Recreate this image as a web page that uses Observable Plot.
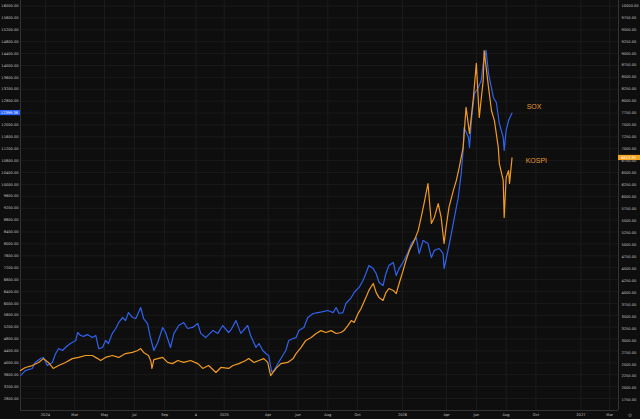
<!DOCTYPE html>
<html><head><meta charset="utf-8">
<script src="https://cdn.jsdelivr.net/npm/d3@7"></script>
<script src="https://cdn.jsdelivr.net/npm/@observablehq/plot@0.6"></script>
<style>html,body{margin:0;padding:0;background:#0e0e0e;overflow:hidden}</style>
</head><body><div id="chart"></div>
<script>
const soxDates = ["2023-11-11","2023-11-21","2023-12-05","2023-12-11","2023-12-22","2023-12-28","2024-01-05","2024-01-15","2024-01-22","2024-01-28","2024-02-05","2024-02-11","2024-02-21","2024-03-03","2024-03-07","2024-03-13","2024-03-19","2024-03-27","2024-04-06","2024-04-13","2024-04-19","2024-04-27","2024-05-03","2024-05-09","2024-05-17","2024-05-24","2024-05-30","2024-06-07","2024-06-13","2024-06-19","2024-06-27","2024-07-04","2024-07-14","2024-07-20","2024-07-28","2024-08-03","2024-08-10","2024-08-18","2024-08-28","2024-09-03","2024-09-13","2024-09-20","2024-09-30","2024-10-10","2024-10-18","2024-10-28","2024-11-08","2024-11-14","2024-11-24","2024-12-09","2024-12-19","2024-12-29","2025-01-10","2025-01-14","2025-01-25","2025-02-04","2025-02-18","2025-02-24","2025-03-07","2025-03-13","2025-03-21","2025-03-27","2025-04-02","2025-04-08","2025-04-13","2025-04-21","2025-04-27","2025-05-07","2025-05-13","2025-05-22","2025-05-28","2025-06-03","2025-06-13","2025-06-21","2025-07-02","2025-07-12","2025-07-22","2025-08-01","2025-08-12","2025-08-18","2025-08-24","2025-09-01","2025-09-07","2025-09-18","2025-09-24","2025-10-04","2025-10-12","2025-10-18","2025-10-24","2025-11-02","2025-11-08","2025-11-14","2025-11-22","2025-11-28","2025-12-04","2025-12-13","2025-12-19","2025-12-25","2026-01-04","2026-01-12","2026-01-19","2026-01-29","2026-02-04","2026-02-12","2026-02-22","2026-03-01","2026-03-07","2026-03-17","2026-03-25","2026-03-27","2026-04-04","2026-04-11","2026-04-17","2026-04-25","2026-05-01","2026-05-05","2026-05-07","2026-05-16","2026-05-18","2026-05-22","2026-05-28","2026-06-05","2026-06-11","2026-06-15","2026-06-21","2026-06-26","2026-06-30","2026-07-06","2026-07-12","2026-07-18","2026-07-26","2026-07-28","2026-08-01","2026-08-06","2026-08-13"];
const soxValues = [3570,3740,3810,4010,4145,4180,3910,4010,4315,4480,4415,4515,4650,4750,5020,4920,4890,4950,4850,4920,4480,4515,4750,4650,4990,5155,5355,5525,5420,5690,5525,5490,5860,5490,5320,4850,4415,4685,5190,5020,4515,4990,5255,5355,5155,5190,5320,4990,4850,5090,4990,5255,5020,5090,5420,4990,5255,4920,4515,4650,4415,4315,4245,3700,3745,3975,4145,4415,4750,4820,4850,5090,5190,5525,5660,5690,5720,5760,5690,5860,5660,5690,5995,6195,6365,6535,6770,7005,7275,7170,7005,6700,6600,7005,7275,7375,6935,7170,7440,7710,8015,8215,7675,8115,8015,7540,7780,7845,7675,7170,7780,8350,8885,9560,10365,11140,11915,11580,11240,12150,13055,13260,13495,14065,14505,13730,13395,12925,12755,12050,11580,11140,11815,12150,12399.38];

const kospiDates = ["2023-11-11","2023-11-21","2023-12-05","2023-12-18","2023-12-28","2024-01-07","2024-01-17","2024-01-28","2024-02-11","2024-02-25","2024-03-09","2024-03-23","2024-04-06","2024-04-17","2024-04-23","2024-05-03","2024-05-17","2024-05-30","2024-06-13","2024-06-27","2024-07-08","2024-07-14","2024-07-20","2024-07-30","2024-08-04","2024-08-06","2024-08-10","2024-08-18","2024-08-28","2024-09-07","2024-09-17","2024-09-28","2024-10-10","2024-10-24","2024-11-08","2024-11-18","2024-11-30","2024-12-15","2024-12-25","2025-01-10","2025-01-19","2025-01-31","2025-02-14","2025-02-20","2025-03-03","2025-03-13","2025-03-23","2025-03-31","2025-04-06","2025-04-17","2025-04-27","2025-05-11","2025-05-22","2025-05-28","2025-06-07","2025-06-17","2025-06-28","2025-07-08","2025-07-18","2025-07-28","2025-08-08","2025-08-18","2025-08-28","2025-09-03","2025-09-11","2025-09-18","2025-09-24","2025-10-02","2025-10-08","2025-10-18","2025-10-24","2025-11-02","2025-11-08","2025-11-14","2025-11-22","2025-11-28","2025-12-04","2025-12-13","2025-12-19","2025-12-25","2026-01-02","2026-01-08","2026-01-15","2026-01-25","2026-02-02","2026-02-08","2026-02-14","2026-02-22","2026-03-01","2026-03-07","2026-03-15","2026-03-21","2026-03-27","2026-03-31","2026-04-06","2026-04-15","2026-04-21","2026-04-27","2026-05-05","2026-05-11","2026-05-18","2026-05-26","2026-06-01","2026-06-07","2026-06-15","2026-06-17","2026-06-26","2026-07-02","2026-07-08","2026-07-16","2026-07-18","2026-07-26","2026-07-28","2026-08-01","2026-08-06","2026-08-08","2026-08-13"];
const kospiValues = [2370,2435,2475,2540,2620,2540,2415,2475,2540,2620,2645,2685,2685,2620,2580,2645,2685,2645,2725,2750,2790,2830,2750,2685,2560,2415,2600,2620,2645,2540,2515,2580,2540,2580,2515,2415,2475,2330,2435,2415,2475,2515,2580,2620,2540,2580,2620,2540,2265,2415,2515,2540,2620,2725,2850,3000,3060,3145,3205,3165,3205,3145,3165,3205,3310,3415,3375,3565,3665,3895,4045,4190,4000,3895,3835,4000,4085,4045,3980,4190,4460,4670,4880,5090,5295,5570,5860,6280,5445,5570,5860,5570,5025,5360,5780,6135,6340,6615,7030,7870,7325,8075,8790,7660,8430,9060,8285,7805,7595,7030,6700,6345,5570,6405,6550,6280,6813.39];

const leftTicks = d3.range(2800, 16001, 400);
const rightTicks = d3.range(1750, 10001, 250);
const xTickDates = ["2024-01-01","2024-03-01","2024-05-01","2024-07-01","2024-09-01","2024-11-04","2025-01-01","2025-04-01","2025-06-01","2025-08-01","2025-10-01","2026-01-01","2026-04-01","2026-06-01","2026-08-01","2026-10-01","2027-01-01","2027-03-01"];
const xTickLabels = ["2024","Mar","May","Jul","Sep","4","2025","Apr","Jun","Aug","Oct","2026","Apr","Jun","Aug","Oct","2027","Mar"];
const seriesNames = ["SOX","KOSPI"];
const nameDates = ["2026-09-12","2026-09-10"];
const nameValues = [12620, 6760]; // SOX on left scale, KOSPI on right scale
const soxLast = 12399.38, kospiLast = 6813.39;

const leftDomain = [2397, 16185];
const rightDomain = [1535.5, 10104.5];
const xDomain = [new Date("2023-11-11"), new Date("2027-03-19")];
const k = (leftDomain[1]-leftDomain[0])/(rightDomain[1]-rightDomain[0]);
const toLeft = v => leftDomain[0] + (v - rightDomain[0]) * k;
const fromLeft = v => rightDomain[0] + (v - leftDomain[0]) / k;

const sox = soxDates.map((d,i)=>({date:new Date(d), value:soxValues[i]}));
const kospi = kospiDates.map((d,i)=>({date:new Date(d), value:kospiValues[i]}));
const tickDates = xTickDates.map(d=>new Date(d));
const labelMap = new Map(tickDates.map((d,i)=>[+d, xTickLabels[i]]));
const names = seriesNames.map((n,i)=>({name:n, date:new Date(nameDates[i]), y: i===0 ? nameValues[i] : toLeft(nameValues[i])}));

const axisFont = 3.6;
const chart = Plot.plot({
  width:640, height:419, marginTop:0, marginBottom:9, marginLeft:20, marginRight:22,
  style:{background:"#0e0e0e", color:"#c4c4c4", fontFamily:"DejaVu Sans, sans-serif"},
  x:{type:"utc", domain:xDomain},
  y:{domain:leftDomain},
  marks:[
    Plot.gridX(tickDates, {stroke:"#1c1c1c", strokeOpacity:1}),
    Plot.gridY(leftTicks, {stroke:"#1a1a1a", strokeOpacity:1}),
    Plot.ruleX([xDomain[0]], {stroke:"#333"}),
    Plot.ruleX([xDomain[1]], {stroke:"#333"}),
    Plot.ruleY([leftDomain[0]], {stroke:"#333"}),
    Plot.axisY(leftTicks, {anchor:"left", tickSize:0, tickPadding:2, fontSize:axisFont, tickFormat:d=>d.toFixed(2), label:null}),
    Plot.axisY(rightTicks.map(toLeft), {anchor:"right", tickSize:0, tickPadding:3, fontSize:axisFont, tickFormat:d=>fromLeft(d).toFixed(2), label:null}),
    Plot.axisX(tickDates, {tickSize:0, tickPadding:3, fontSize:axisFont, tickFormat:d=>labelMap.get(+d), label:null}),
    Plot.line(sox, {x:"date", y:"value", stroke:"#2f63ee", strokeWidth:1.2}),
    Plot.line(kospi, {x:"date", y:d=>toLeft(d.value), stroke:"#f29b22", strokeWidth:1.2}),
    Plot.text(names, {x:"date", y:"y", text:"name", fill:"#e39a3b", fontSize:7, textAnchor:"start", fontFamily:"Liberation Sans, sans-serif"})
  ]
});
document.getElementById("chart").appendChild(chart);

const svg = d3.select(chart);
const ys = chart.scale("y");
const yb = ys.apply(soxLast);
svg.append("rect").attr("x",0).attr("y",yb-2.6).attr("width",20).attr("height",5.2).attr("fill","#2962ff");
svg.append("text").attr("x",18).attr("y",yb).attr("dy","0.35em").attr("text-anchor","end").attr("font-size",axisFont).attr("fill","#fff").text(soxLast.toFixed(2));
const yo = ys.apply(toLeft(kospiLast));
svg.append("rect").attr("x",618).attr("y",yo-2.6).attr("width",22).attr("height",5.2).attr("fill","#f7a21b");
svg.append("text").attr("x",621).attr("y",yo).attr("dy","0.35em").attr("text-anchor","start").attr("font-size",axisFont).attr("fill","#fff").text(kospiLast.toFixed(2));
svg.append("text").attr("x",630).attr("y",415).attr("dy","0.35em").attr("text-anchor","middle").attr("font-size",5).attr("fill","#777").text("⚙");
</script></body></html>
